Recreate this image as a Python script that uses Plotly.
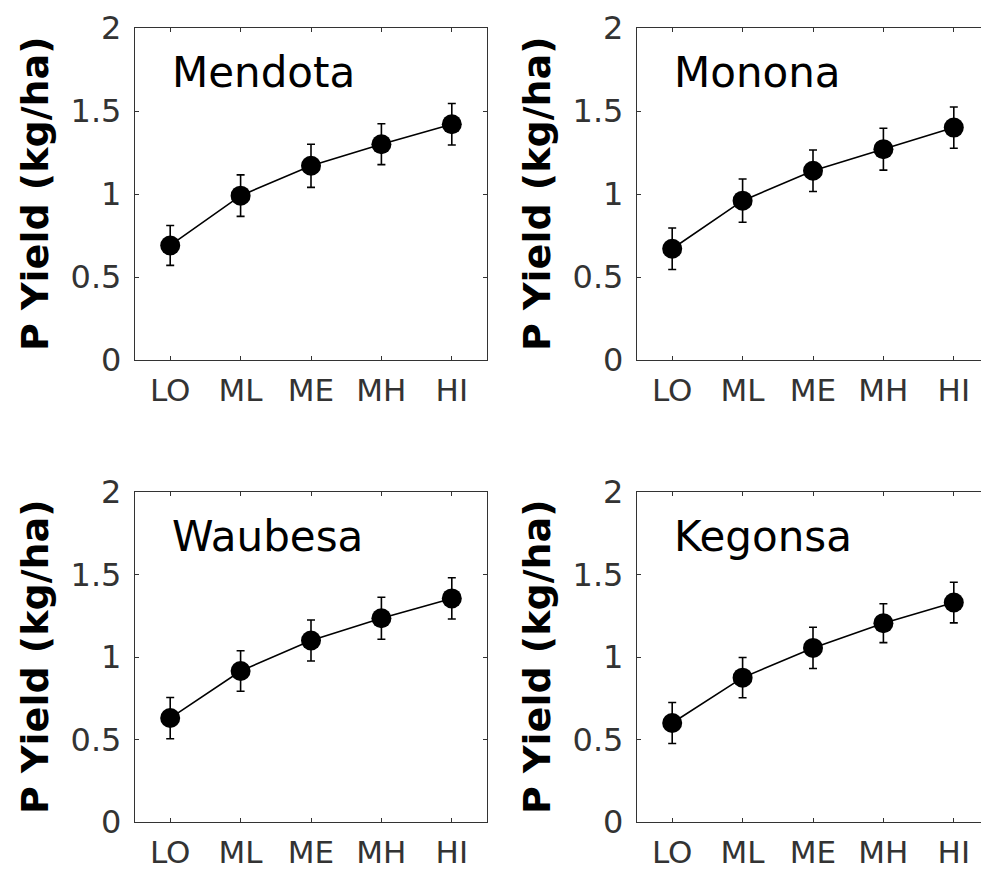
import plotly.graph_objects as go

# Nutrient loading scenarios (x categories)
scenarios = ["LO", "ML", "ME", "MH", "HI"]

# Mean P yield per lake and its error (kg/ha)
lakes = ["Mendota", "Monona", "Waubesa", "Kegonsa"]
mendota = [0.69, 0.99, 1.17, 1.30, 1.42]
mendota_err = [0.12, 0.125, 0.13, 0.123, 0.125]
monona = [0.67, 0.96, 1.14, 1.27, 1.40]
monona_err = [0.125, 0.13, 0.125, 0.126, 0.124]
waubesa = [0.63, 0.915, 1.10, 1.235, 1.355]
waubesa_err = [0.125, 0.123, 0.124, 0.127, 0.125]
kegonsa = [0.60, 0.875, 1.055, 1.205, 1.33]
kegonsa_err = [0.124, 0.122, 0.125, 0.118, 0.123]

y_ticks = [0, 0.5, 1, 1.5, 2]
y_tick_text = ["0", "0.5", "1", "1.5", "2"]

series = [mendota, monona, waubesa, kegonsa]
errors = [mendota_err, monona_err, waubesa_err, kegonsa_err]

W, H = 981, 875
FONT = "DejaVu Sans"
AX = "#333333"

# panel boxes in pixels: (left, right, top, bottom)
boxes = [(135, 487, 28, 360), (637, 981, 28, 360),
         (135, 487, 492, 822), (637, 981, 492, 822)]
px_per_unit = (487 - 135) / 5.0

fig = go.Figure()
xpos = list(range(1, len(scenarios) + 1))

for i, (name, vals, errs) in enumerate(zip(lakes, series, errors)):
    n = "" if i == 0 else str(i + 1)
    left, right, top, bottom = boxes[i]
    fig.add_trace(go.Scatter(
        x=xpos, y=vals,
        xaxis="x" + n, yaxis="y" + n,
        mode="lines+markers",
        line=dict(color="black", width=1.6),
        marker=dict(color="black", size=20, line=dict(width=0)),
        error_y=dict(type="data", array=errs, visible=True,
                     color="black", thickness=1.6, width=4),
        showlegend=False,
        hoverinfo="skip",
    ))
    is_right = left > 500
    xr_max = 0.5 + (right - left) / px_per_unit
    fig.layout["xaxis" + n] = dict(
        domain=[left / W, right / W],
        anchor="y" + n,
        range=[0.5, xr_max],
        tickmode="array", tickvals=xpos, ticktext=scenarios,
        ticks="inside", ticklen=4, tickwidth=1, tickcolor=AX,
        showline=True, linecolor=AX, linewidth=1.3,
        mirror="ticks",
        showgrid=False, zeroline=False, automargin=False,
        tickfont=dict(family=FONT, size=31, color=AX),
        ticklabelstandoff=3,
    )
    fig.layout["yaxis" + n] = dict(
        domain=[1 - bottom / H, 1 - top / H],
        anchor="x" + n,
        range=[0, 2],
        tickmode="array", tickvals=y_ticks, ticktext=y_tick_text,
        ticks="inside", ticklen=4, tickwidth=1, tickcolor=AX,
        showline=True, linecolor=AX, linewidth=1.3,
        mirror=False if is_right else "ticks",
        showgrid=False, zeroline=False, automargin=False,
        tickfont=dict(family=FONT, size=32, color=AX),
        ticklabelstandoff=6,
    )
    # lake name inside the panel
    fig.add_annotation(
        text=name, xref="x" + n + " domain", yref="paper",
        x=(35 / (right - left)), y=1 - (top + 44) / H,
        xanchor="left", yanchor="middle", showarrow=False,
        font=dict(family=FONT, size=42, color="black"),
    )
    # y axis title
    fig.add_annotation(
        text="<b>P Yield (kg/ha)</b>", xref="paper", yref="paper",
        x=(left - 100) / W, y=1 - (top + bottom) / 2 / H,
        xanchor="center", yanchor="middle", textangle=-90, showarrow=False,
        font=dict(family=FONT, size=38, color="black"),
    )

fig.update_layout(
    width=W, height=H,
    margin=dict(l=0, r=0, t=0, b=0),
    paper_bgcolor="white", plot_bgcolor="white",
)

fig.write_html("out.html")
